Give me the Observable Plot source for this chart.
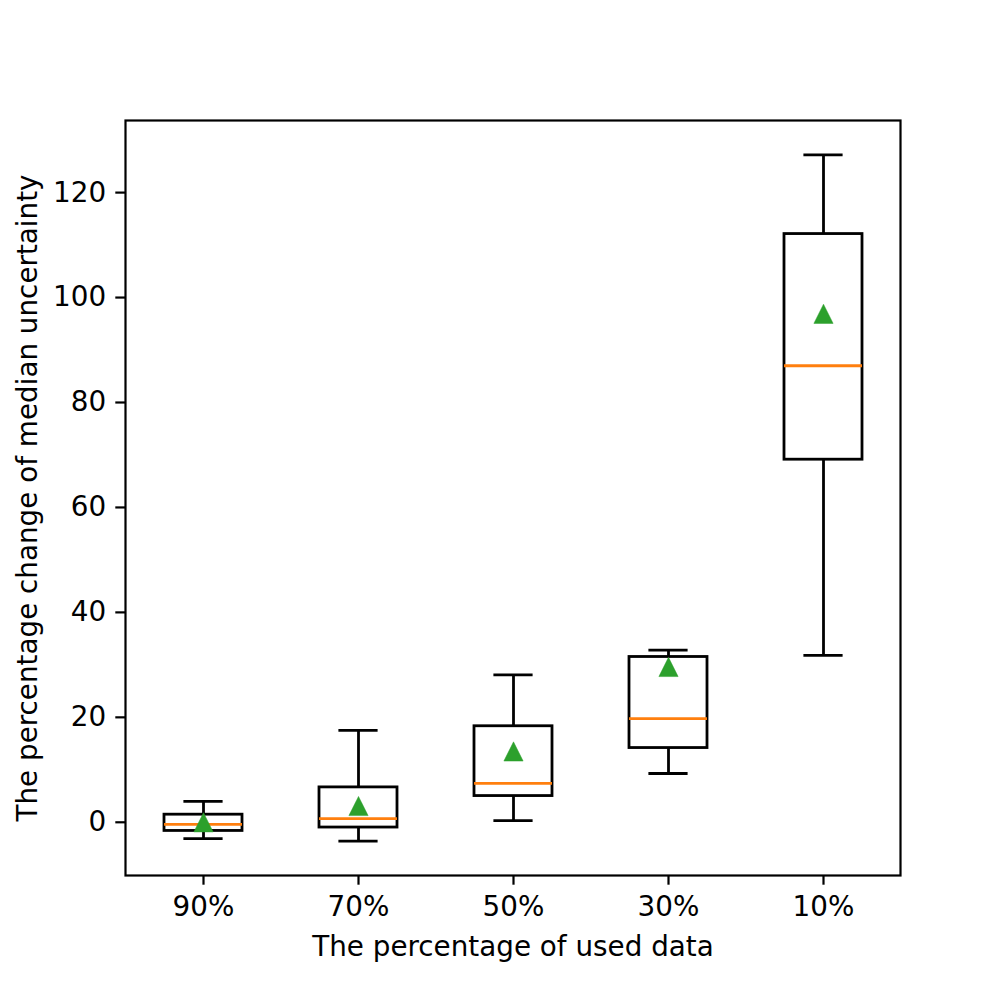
<!DOCTYPE html>
<html>
<head>
<meta charset="utf-8">
<script src="https://cdn.jsdelivr.net/npm/d3@7"></script>
<script src="https://cdn.jsdelivr.net/npm/@observablehq/plot@0.6"></script>
<style>
  html, body { margin: 0; padding: 0; background: white; }
  #chart svg { display: block; }
</style>
</head>
<body>
<div id="chart"></div>
<script>
// Data
const categories = ["90%", "70%", "50%", "30%", "10%"];
const whiskerLow = [-3.1, -3.6, 0.3, 9.3, 31.8];
const q1 = [-1.65, -1.0, 5.0, 14.15, 69.1];
const median = [-0.4, 0.7, 7.4, 19.75, 87.0];
const q3 = [1.45, 6.65, 18.3, 31.5, 112.1];
const whiskerHigh = [4.0, 17.5, 28.1, 32.8, 127.2];
const means = [0.0, 3.1, 13.5, 29.6, 96.9];
const yTicks = [0, 20, 40, 60, 80, 100, 120];
const xLabel = "The percentage of used data";
const yLabel = "The percentage change of median uncertainty";

const rows = categories.map((c, i) => ({
  cat: c, lo: whiskerLow[i], q1: q1[i], med: median[i], q3: q3[i], hi: whiskerHigh[i], mean: means[i]
}));

const yMin = d3.min(whiskerLow), yMax = d3.max(whiskerHigh);
const pad = (yMax - yMin) * 0.05;

// matplotlib-like "^" marker (bbox centred on the data point)
const tri = {
  draw(ctx) {
    const h = 9.6;
    ctx.moveTo(0, -h);
    ctx.lineTo(h, h);
    ctx.lineTo(-h, h);
    ctx.closePath();
  }
};

const FS = 27.8;
const chart = Plot.plot({
  width: 1000,
  height: 1000,
  marginLeft: 125,
  marginRight: 100,
  marginTop: 120,
  marginBottom: 125,
  style: { fontFamily: "DejaVu Sans", fontSize: FS + "px", background: "white", color: "black" },
  x: { type: "band", domain: categories, paddingInner: 0.5, paddingOuter: 0.25 },
  y: { domain: [yMin - pad, yMax + pad] },
  marks: [
    Plot.axisY({ ticks: yTicks, tickSize: 9.7, tickPadding: 9.7, strokeWidth: 2.2, label: null, tickFormat: d3.format("d") }),
    Plot.axisX({ tickSize: 9.7, tickPadding: 11, strokeWidth: 2.2, label: null }),
    // whiskers
    Plot.ruleX(rows, { x: "cat", y1: "lo", y2: "q1", stroke: "black", strokeWidth: 2.8 }),
    Plot.ruleX(rows, { x: "cat", y1: "q3", y2: "hi", stroke: "black", strokeWidth: 2.8 }),
    // boxes
    Plot.barY(rows, { x: "cat", y1: "q1", y2: "q3", fill: "none", stroke: "black", strokeWidth: 2.8 }),
    // caps
    Plot.tickY(rows, { x: "cat", y: "lo", stroke: "black", strokeWidth: 2.8, insetLeft: 19.4, insetRight: 19.4 }),
    Plot.tickY(rows, { x: "cat", y: "hi", stroke: "black", strokeWidth: 2.8, insetLeft: 19.4, insetRight: 19.4 }),
    // medians
    Plot.tickY(rows, { x: "cat", y: "med", stroke: "#ff7f0e", strokeWidth: 2.8 }),
    // means
    Plot.dot(rows, { x: "cat", y: "mean", symbol: tri, fill: "#2ca02c", stroke: "#2ca02c", strokeWidth: 0.5 }),
    Plot.frame({ stroke: "black", strokeWidth: 2.2 }),
    // axis labels
    Plot.text([xLabel], { frameAnchor: "bottom", text: d => d, dy: 72, lineAnchor: "middle", textAnchor: "middle", fontSize: FS, fill: "black" }),
    Plot.text([yLabel], { frameAnchor: "left", text: d => d, dx: -97, rotate: -90, lineAnchor: "middle", textAnchor: "middle", fontSize: FS, fill: "black" })
  ]
});
document.getElementById("chart").appendChild(chart);
</script>
</body>
</html>
